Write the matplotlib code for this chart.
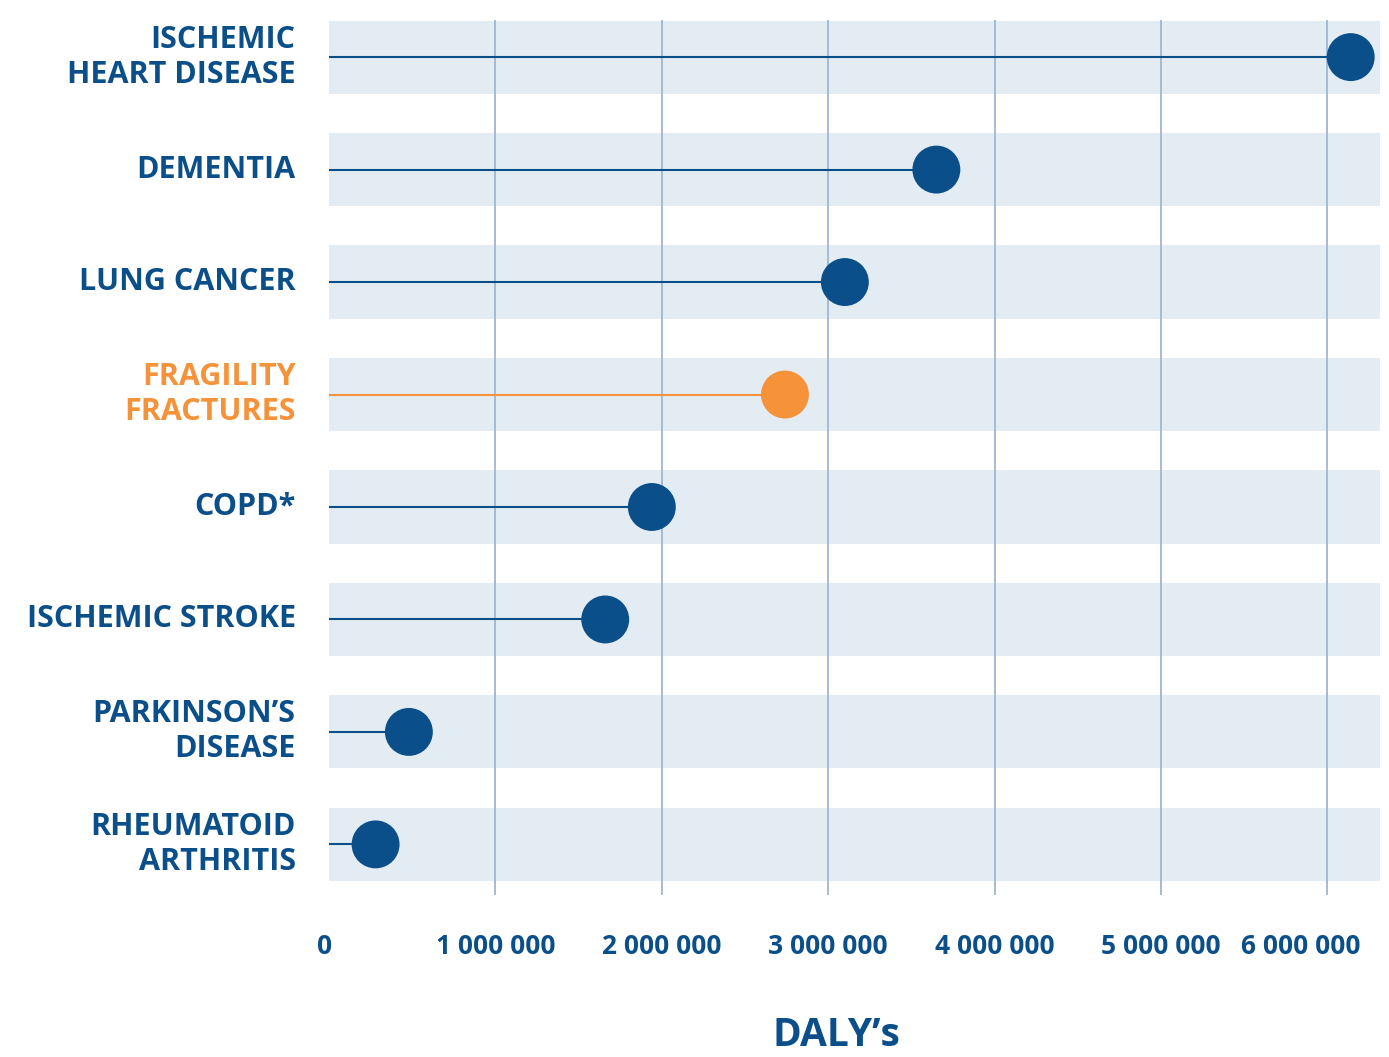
import matplotlib.pyplot as plt
from matplotlib.ticker import FuncFormatter
from matplotlib.transforms import ScaledTranslation

# data
causes = ["ISCHEMIC\nHEART DISEASE", "DEMENTIA", "LUNG CANCER", "FRAGILITY\nFRACTURES",
          "COPD*", "ISCHEMIC STROKE", "PARKINSON\u2019S\nDISEASE", "RHEUMATOID\nARTHRITIS"]
dalys = [6140000, 3650000, 3100000, 2740000, 1940000, 1660000, 480000, 280000]
highlight = "FRAGILITY\nFRACTURES"
ticks = [0, 1000000, 2000000, 3000000, 4000000, 5000000, 6000000]

BLUE = "#0b4f8a"
ORANGE = "#f5923a"
BAND = "#e4ecf3"
GRID = "#a3bcd5"

plt.rcParams["font.family"] = ["Open Sans", "DejaVu Sans"]
plt.rcParams["font.weight"] = "bold"

fig = plt.figure(figsize=(13.89, 10.57), dpi=100)
ax = fig.add_axes([329 / 1389, 162 / 1057, 1051 / 1389, 875 / 1057])

ypos = list(range(len(causes)))
colors = [ORANGE if c == highlight else BLUE for c in causes]

for y in ypos:
    ax.axhspan(y - 0.325, y + 0.325, color=BAND, lw=0, zorder=1)

ax.hlines(ypos, 0, dalys, colors=colors, lw=1.5, zorder=2)
ax.scatter(dalys, ypos, s=34.5 ** 2, c=colors, lw=0, zorder=3)

ax.set_xlim(0, 6316000)
ax.set_ylim(7.45, -0.33)
ax.set_xticks(ticks)
ax.xaxis.set_major_formatter(FuncFormatter(lambda v, p: f"{int(v):,}".replace(",", " ")))
ax.set_yticks(ypos)
ax.set_yticklabels(causes, fontsize=22, fontweight="bold", linespacing=1.22)
for lab, c in zip(ax.get_yticklabels(), colors):
    lab.set_color(c)
    lab.set_va("center")

ax.tick_params(axis="x", length=0, pad=27, labelsize=19, labelcolor=BLUE)
ax.tick_params(axis="y", length=0, pad=24)
ax.grid(axis="x", color=GRID, lw=1.4)
ax.grid(axis="y", visible=False)
ax.set_axisbelow("line")
for s in ax.spines.values():
    s.set_visible(False)

fig.canvas.draw()
ax.get_xgridlines()[0].set_visible(False)
xl = ax.get_xticklabels()
xl[0].set_transform(xl[0].get_transform() + ScaledTranslation(-4 / 100, 0, fig.dpi_scale_trans))
xl[-1].set_transform(xl[-1].get_transform() + ScaledTranslation(-27 / 100, 0, fig.dpi_scale_trans))

ax.set_xlabel("DALY\u2019s", fontsize=28, fontweight="bold", color=BLUE, va="center")
ax.xaxis.set_label_coords((836 - 329) / 1051, (895 - 1036) / 875)

fig.savefig("out.png", dpi=100)
